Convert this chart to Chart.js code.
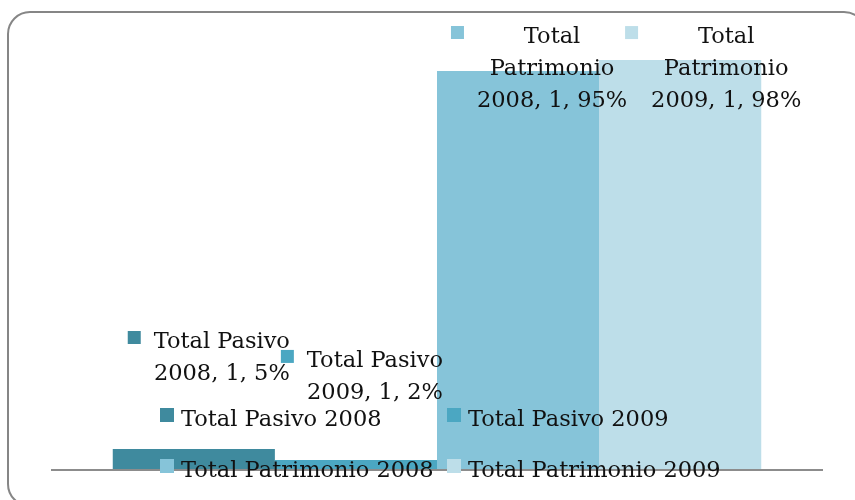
<!DOCTYPE html>
<html>
<head>
<meta charset="utf-8">
<script src="https://cdn.jsdelivr.net/npm/chart.js@4/dist/chart.umd.min.js"></script>
<style>
  html, body { margin: 0; padding: 0; background: #ffffff; }
  #wrap { width: 855px; height: 500px; }
</style>
</head>
<body>
<div id="wrap"><canvas id="c" width="855" height="500"></canvas></div>
<script>
// ---- data ----
const categories = ['1'];
const seriesNames = ['Total Pasivo 2008', 'Total Pasivo 2009', 'Total Patrimonio 2008', 'Total Patrimonio 2009'];
const pasivo2008 = [0.05];
const pasivo2009 = [0.024];
const patrimonio2008 = [0.95];
const patrimonio2009 = [0.976];

// ---- styles ----
const seriesColors = ['#3F8A9E', '#4BA7C2', '#86C4D9', '#BDDEE9'];
const FONT = '22.5px "DejaVu Serif"';
const labelOffsets = [
  { dx: 28, dy: -101 },
  { dx: 19, dy: -93 },
  { dx: 34, dy: -28 },
  { dx: 46, dy: -17 }
];

function wrapWords(ctx, text, maxW) {
  const words = text.split(' ');
  const lines = [];
  let cur = '';
  for (const w of words) {
    const t = cur ? cur + ' ' + w : w;
    if (cur && ctx.measureText(t).width > maxW) { lines.push(cur); cur = w; }
    else cur = t;
  }
  if (cur) lines.push(cur);
  return lines;
}

const framePlugin = {
  id: 'frame',
  beforeDraw(chart) {
    const ctx = chart.ctx;
    ctx.save();
    ctx.fillStyle = '#ffffff';
    ctx.fillRect(0, 0, chart.width, chart.height);
    ctx.strokeStyle = '#868686';
    ctx.lineWidth = 2;
    ctx.beginPath();
    ctx.roundRect(8, 12, 858, 494, 22);
    ctx.stroke();
    ctx.restore();
  }
};

const overlayPlugin = {
  id: 'overlay',
  afterDatasetsDraw(chart) {
    const ctx = chart.ctx;
    const area = chart.chartArea;
    const y0 = chart.scales.y.getPixelForValue(0);
    ctx.save();
    // axis line
    ctx.strokeStyle = '#8C8C8C';
    ctx.lineWidth = 2;
    ctx.beginPath();
    ctx.moveTo(area.left, y0);
    ctx.lineTo(area.right, y0);
    ctx.stroke();

    // data labels with legend key
    ctx.font = FONT;
    ctx.textBaseline = 'alphabetic';
    chart.data.datasets.forEach((ds, i) => {
      const meta = chart.getDatasetMeta(i);
      meta.data.forEach((bar, j) => {
        const v = ds.data[j];
        const txt = ds.label + ', ' + chart.data.labels[j] + ', ' + Math.round(v * 100) + '%';
        const lines = wrapWords(ctx, txt, 158);
        const cx = bar.x + labelOffsets[i].dx;
        const by = bar.y + labelOffsets[i].dy;
        let bw = 0;
        lines.forEach(l => { bw = Math.max(bw, ctx.measureText(l).width); });
        ctx.fillStyle = seriesColors[i];
        ctx.fillRect(cx - bw / 2 - 26, by - 17, 13, 13);
        ctx.fillStyle = '#111111';
        ctx.textAlign = 'center';
        lines.forEach((l, k) => ctx.fillText(l, cx, by + k * 32));
      });
    });

    // legend (2 x 2)
    const cols = [160, 447];
    const rows = [426, 477];
    ctx.textAlign = 'left';
    chart.data.datasets.forEach((ds, i) => {
      const x = cols[i % 2];
      const b = rows[Math.floor(i / 2)];
      ctx.fillStyle = seriesColors[i];
      ctx.fillRect(x, b - 18, 14, 14);
      ctx.fillStyle = '#111111';
      ctx.fillText(ds.label, x + 21, b);
    });
    ctx.restore();
  }
};

const seriesData = [pasivo2008, pasivo2009, patrimonio2008, patrimonio2009];

new Chart(document.getElementById('c'), {
  type: 'bar',
  data: {
    labels: categories,
    datasets: seriesNames.map((n, i) => ({
      label: n,
      data: seriesData[i],
      backgroundColor: seriesColors[i],
      borderWidth: 0,
      categoryPercentage: 0.84,
      barPercentage: 1.0
    }))
  },
  options: {
    responsive: false,
    animation: false,
    layout: { padding: { left: 51, right: 32, top: 50, bottom: 30 } },
    plugins: { legend: { display: false }, tooltip: { enabled: false } },
    scales: {
      x: { display: false },
      y: { display: false, min: 0, max: 1 }
    }
  },
  plugins: [framePlugin, overlayPlugin]
});
</script>
</body>
</html>
